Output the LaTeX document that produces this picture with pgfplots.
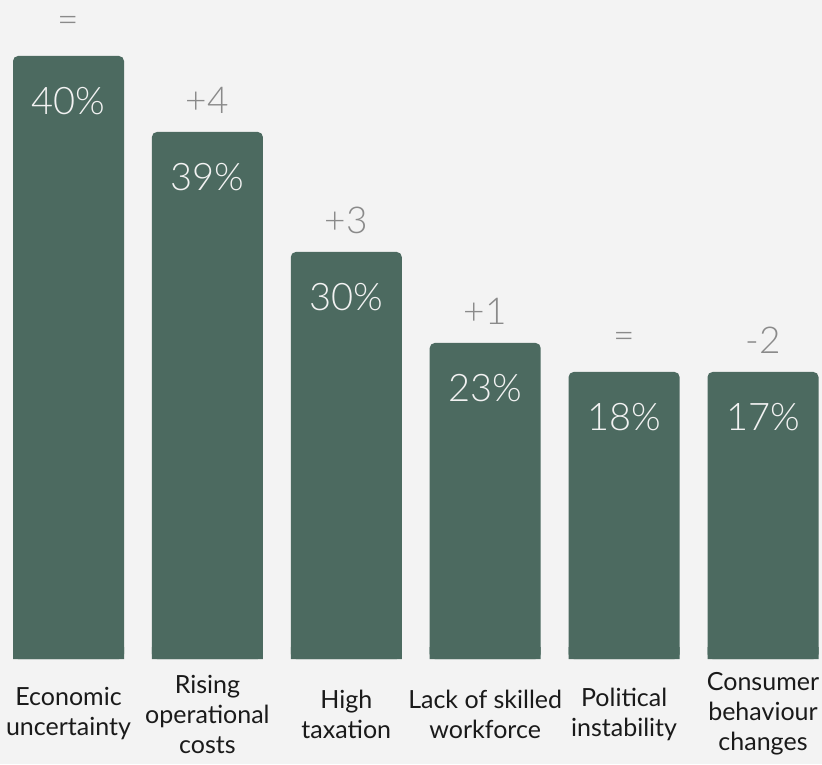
\documentclass[border=0pt]{standalone}
\usepackage{pgfplots}
\pgfplotsset{compat=1.18}
\usepackage{fontspec}
\setmainfont{Lato}
\newfontfamily\lightfont{Lato Light}
\definecolor{bg}{RGB}{243,243,243}
\definecolor{barc}{RGB}{76,106,96}
\definecolor{valc}{RGB}{242,242,242}
\definecolor{deltac}{RGB}{138,138,138}
\definecolor{catc}{RGB}{26,26,26}
\begin{document}
\begin{tikzpicture}[x=1pt,y=1pt]
\fill[bg] (0,0) rectangle (822,764);
\useasboundingbox (0,0) rectangle (822,764);
\begin{scope}
\clip (0,0) rectangle (822,764);
\node[anchor=base, font=\fontsize{30}{36}\selectfont, text=black, inner sep=0pt] at (589,771) {g};
\end{scope}
\begin{axis}[
  at={(0pt,105pt)}, anchor=south west,
  width=822pt, height=659pt, scale only axis,
  xmin=-0.4932, xmax=5.4248, ymin=0, ymax=659,
  enlargelimits=false, clip=false,
  axis line style={draw=none}, major tick length=0pt,
  ytick=\empty,
  xtick={0,1,2,3,4,5},
  xticklabels={{Economic\\uncertainty},{Rising\\operational\\costs},{High\\taxation},{Lack of skilled\\workforce},{Political\\instability},{Consumer\\behaviour\\changes}},
  xticklabel style={align=center, anchor=center, yshift=-55pt, font=\fontsize{25}{30}\selectfont, text=catc},
  ybar, bar width=111pt,
]
% main bars (height in px units above baseline)
\addplot[ybar, bar shift=0pt, fill=barc, draw=none, rounded corners=5pt,
  nodes near coords, point meta=explicit symbolic,
  nodes near coords style={anchor=center, yshift=-45pt, text=valc, font=\lightfont\fontsize{38}{44}\selectfont}]
  coordinates {(0,603)[40\%] (1,527)[39\%] (2,407)[30\%] (3,316)[23\%] (4,287)[18\%] (5,287)[17\%]};
% square base of bars
\addplot[ybar, bar shift=0pt, fill=barc, draw=none]
  coordinates {(0,12) (1,12) (2,12) (3,12) (4,12) (5,12)};
% change labels above bars
\addplot[ybar, bar shift=0pt, fill=none, draw=none,
  nodes near coords, point meta=explicit symbolic,
  nodes near coords style={anchor=center, yshift=32pt, text=deltac, font=\lightfont\fontsize{37}{44}\selectfont}]
  coordinates {(0,603)[=] (1,527)[+4] (2,407)[+3] (3,316)[+1] (4,287)[=] (5,287)[-2]};
\end{axis}
\end{tikzpicture}
\end{document}
